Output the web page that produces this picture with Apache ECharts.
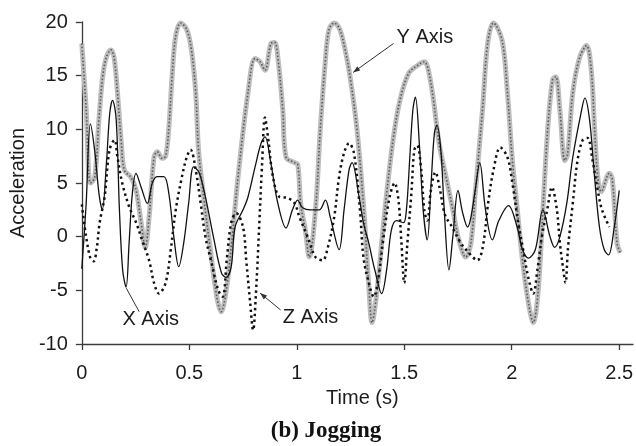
<!DOCTYPE html>
<html>
<head>
<meta charset="utf-8">
<script src="https://cdn.jsdelivr.net/npm/echarts@6/dist/echarts.min.js"></script>
<style>
  html, body { margin: 0; padding: 0; background: #ffffff; }
  #chart { width: 636px; height: 446px; }
</style>
</head>
<body>
<div id="chart"></div>
<script>
// Tick positions on the time axis (s)
const timeTicks = [0, 0.5, 1, 1.5, 2, 2.5];

// X axis acceleration (solid line)
const xTime = [0, 0.02, 0.04, 0.06, 0.08, 0.095, 0.115, 0.13, 0.143, 0.16, 0.175, 0.19, 0.206, 0.22, 0.235, 0.252, 0.276, 0.305, 0.328, 0.35, 0.382, 0.405, 0.428, 0.451, 0.474, 0.497, 0.52, 0.545, 0.575, 0.612, 0.65, 0.672, 0.695, 0.713, 0.75, 0.773, 0.806, 0.834, 0.852, 0.879, 0.912, 0.95, 0.98, 1.004, 1.027, 1.064, 1.105, 1.133, 1.156, 1.197, 1.22, 1.243, 1.257, 1.29, 1.31, 1.335, 1.363, 1.395, 1.418, 1.44, 1.464, 1.496, 1.51, 1.525, 1.54, 1.552, 1.57, 1.588, 1.607, 1.625, 1.64, 1.652, 1.67, 1.686, 1.708, 1.726, 1.75, 1.772, 1.795, 1.81, 1.832, 1.851, 1.878, 1.91, 1.94, 1.985, 2.025, 2.05, 2.078, 2.11, 2.145, 2.178, 2.2, 2.224, 2.256, 2.284, 2.325, 2.34, 2.362, 2.385, 2.408, 2.43, 2.45, 2.477, 2.5];
const xAcc = [-3, 3, 10.5, 8, 4, 2.5, 7, 11.5, 12.7, 10.9, 2.5, -3.1, -4.7, -0.6, 4.0, 5.9, 4.6, 3.1, 5.0, 5.6, 5.6, 4.0, 0.0, -2.8, -0.6, 3.1, 6.5, 6.0, 3.7, 0.0, -3.4, -3.8, -2.8, 0.9, 2.5, 3.7, 6.5, 8.7, 9.3, 6.9, 3.1, 0.8, 2.5, 3.4, 2.7, 2.5, 2.5, 3.4, 1.8, -1.2, 2.5, 6.2, 6.9, 3.7, 1.3, -0.6, -3.1, -5.3, -3.1, 0.6, 1.5, 1.3, 2.5, 7.1, 11.8, 13.0, 8.7, 2.5, -0.3, 5.0, 9.6, 10.4, 8.1, 2.5, -3.1, 0.0, 4.3, 2.2, 0.9, 1.8, 4.6, 6.9, 2.5, -0.3, 1.5, 2.9, 0.9, -1.2, -2.0, -1.2, 2.5, 0.0, -1.0, 0.0, 3.1, 7.4, 11.8, 12.9, 10.9, 5.6, 0.9, -1.2, -1.7, 0.9, 4.3];

// Y axis acceleration (thick grey line)
const yTime = [0, 0.02, 0.04, 0.06, 0.08, 0.097, 0.114, 0.135, 0.15, 0.166, 0.184, 0.198, 0.23, 0.253, 0.276, 0.295, 0.313, 0.336, 0.351, 0.374, 0.39, 0.405, 0.42, 0.436, 0.46, 0.488, 0.51, 0.53, 0.543, 0.567, 0.598, 0.628, 0.648, 0.674, 0.697, 0.727, 0.773, 0.806, 0.829, 0.852, 0.88, 0.897, 0.912, 0.935, 0.95, 0.99, 1.005, 1.018, 1.04, 1.058, 1.087, 1.11, 1.133, 1.15, 1.174, 1.2, 1.225, 1.248, 1.28, 1.31, 1.335, 1.35, 1.372, 1.395, 1.418, 1.45, 1.48, 1.52, 1.565, 1.593, 1.61, 1.634, 1.662, 1.694, 1.726, 1.754, 1.786, 1.81, 1.83, 1.864, 1.888, 1.915, 1.955, 1.98, 2.003, 2.026, 2.05, 2.078, 2.1, 2.122, 2.145, 2.168, 2.19, 2.205, 2.224, 2.247, 2.26, 2.284, 2.316, 2.348, 2.37, 2.385, 2.4, 2.416, 2.454, 2.468, 2.49, 2.505];
const yAcc = [18, 12, 5, 5.5, 11, 14.9, 16.7, 17.4, 16.7, 13.4, 8.7, 6.2, 5.5, 4.3, 1.3, -1.0, 1.8, 7.4, 7.9, 7.3, 7.5, 10.2, 14.9, 18.6, 19.9, 19.3, 17.4, 13.4, 8.1, 3.7, -1.2, -5.6, -7.0, -4.7, -0.6, 5.6, 13.4, 16.6, 16.3, 15.5, 18.0, 18.1, 16.7, 11.8, 7.4, 6.9, 6.7, 3.1, 0.6, -1.9, 2.5, 10.2, 16.4, 19.3, 19.9, 19.3, 17.4, 14.9, 10, 3, -4.5, -8.0, -5.3, -0.6, 4.0, 9.3, 12.7, 15.2, 16.0, 16.3, 15.7, 13.0, 8.7, 5.6, 2.5, -0.3, -1.9, -0.6, 4.0, 11.8, 18.0, 19.9, 18.3, 13.4, 7.1, 2.5, -2.2, -6.2, -8.0, -5.3, 2.5, 10.2, 14.6, 14.9, 11.8, 7.1, 7.7, 13.4, 16.7, 17.8, 15.5, 10.2, 5.6, 4.2, 5.9, 5.3, -0.6, -1.5];

// Z axis acceleration (dotted line)
const zTime = [0, 0.02, 0.04, 0.055, 0.07, 0.083, 0.106, 0.129, 0.152, 0.166, 0.188, 0.22, 0.253, 0.28, 0.313, 0.336, 0.359, 0.39, 0.414, 0.437, 0.466, 0.488, 0.506, 0.53, 0.553, 0.575, 0.603, 0.635, 0.655, 0.675, 0.695, 0.718, 0.75, 0.765, 0.782, 0.797, 0.81, 0.825, 0.838, 0.852, 0.866, 0.889, 0.92, 0.958, 0.99, 1.013, 1.05, 1.087, 1.12, 1.142, 1.174, 1.197, 1.22, 1.243, 1.266, 1.294, 1.31, 1.335, 1.358, 1.38, 1.404, 1.432, 1.455, 1.473, 1.487, 1.5, 1.515, 1.533, 1.547, 1.56, 1.579, 1.593, 1.607, 1.625, 1.645, 1.665, 1.69, 1.72, 1.76, 1.8, 1.84, 1.865, 1.89, 1.915, 1.947, 1.98, 2.003, 2.03, 2.053, 2.077, 2.1, 2.12, 2.14, 2.165, 2.187, 2.21, 2.224, 2.24, 2.25, 2.262, 2.284, 2.306, 2.33, 2.352, 2.376, 2.4, 2.42, 2.454];
const zAcc = [3, 0, -2, -2.3, -1, 1.3, 3.7, 8.1, 9.0, 7.4, 5.0, 2.8, 1.3, -0.3, -2.2, -4.3, -5.3, -4.3, -1.2, 2.5, 5.6, 7.4, 8.1, 6.2, 3.1, 0.0, -2.4, -5.0, -5.6, -2.0, 1.3, 2.2, 0.9, -2.2, -5.9, -8.7, -5.3, 0.9, 6.5, 11.1, 9.3, 5.6, 3.7, 3.6, 3.1, 1.8, 0.0, -1.9, -2.2, -1.2, 1.8, 5.6, 7.8, 8.7, 7.8, 2.5, -1.9, -4.3, -5.6, -3.8, 0.0, 3.7, 5.0, 3.4, -0.6, -4.3, -0.5, 4.0, 8.1, 8.5, 6.2, 2.5, 1.5, 4.5, 6.0, 4.5, 2.0, 1.0, -0.5, -1.5, -2.2, -1.0, 3.1, 6.2, 8.3, 7.4, 5.0, 1.3, -1.2, -3.8, -5.3, -3, 0, 2.5, 4.6, 2.5, -0.6, -3.1, -4.3, -1, 3.1, 7.1, 9.0, 9.2, 7.1, 4.3, 2.5, 0.9];

// Callout labels: text, leader start (on the curve), leader end, text anchor (data coords)
const callouts = [
  { text: 'Y Axis', from: [1.262, 15.3], to: [1.45, 18.0], at: [1.464, 18.6], arrow: true },
  { text: 'X Axis', from: [0.207, -4.8], to: [0.267, -7.0], at: [0.189, -7.75], arrow: false },
  { text: 'Z Axis', from: [0.829, -5.25], to: [0.925, -6.83], at: [0.935, -7.55], arrow: true }
];

const pairs = (ts, vs) => ts.map((t, i) => [t, vs[i]]);
const SANS = 'Liberation Sans, Arial, sans-serif';
const INK = '#1c1c1c';

const chart = echarts.init(document.getElementById('chart'), null, { renderer: 'canvas' });

const option = {
  animation: false,
  backgroundColor: '#ffffff',
  grid: { left: 77, top: 22, right: 2, bottom: 102 },
  xAxis: {
    type: 'value', min: 0, max: 2.564, interval: 0.5,
    axisLine: { onZero: false, lineStyle: { color: '#3a3a3a', width: 1.3 } },
    axisTick: { show: true, length: 6, customValues: timeTicks, lineStyle: { color: '#3a3a3a', width: 1.3 } },
    axisLabel: { customValues: timeTicks, margin: 19, fontSize: 20, color: INK, fontFamily: SANS },
    splitLine: { show: false },
    name: 'Time (s)', nameLocation: 'middle', nameGap: 44,
    nameTextStyle: { fontSize: 20, color: INK, fontFamily: SANS, padding: [0, 0, 0, 10] }
  },
  yAxis: {
    type: 'value', min: -10, max: 20, interval: 5,
    axisLine: { show: true, onZero: false, lineStyle: { color: '#3a3a3a', width: 1.3 } },
    axisTick: { show: true, length: 6, lineStyle: { color: '#3a3a3a', width: 1.3 } },
    axisLabel: { margin: 14, fontSize: 20, color: INK, fontFamily: SANS },
    splitLine: { show: false },
    name: 'Acceleration', nameLocation: 'middle', nameGap: 41,
    nameTextStyle: { fontSize: 20, color: INK, fontFamily: SANS }
  },
  series: [
    {
      name: 'Y Axis', type: 'line', data: pairs(yTime, yAcc), smooth: 0.35,
      showSymbol: false, z: 2,
      lineStyle: { color: '#bdbdbd', width: 5 }
    },
    {
      name: 'Y Axis texture', type: 'line', data: pairs(yTime, yAcc), smooth: 0.35,
      showSymbol: false, z: 3,
      lineStyle: { color: '#5a5a5a', width: 1.6, type: [1.5, 2] }
    },
    {
      name: 'Z Axis', type: 'line', data: pairs(zTime, zAcc), smooth: 0.35,
      showSymbol: false, z: 4,
      lineStyle: { color: '#111111', width: 2.5, type: [2.4, 3.4] }
    },
    {
      name: 'X Axis', type: 'line', data: pairs(xTime, xAcc), smooth: 0.35,
      showSymbol: false, z: 5,
      lineStyle: { color: '#111111', width: 1.3 }
    }
  ]
};
chart.setOption(option);

// Callout leaders and texts, placed through the grid's coordinate system
function arrowHead(p, q, len, half) {
  const dx = p[0] - q[0], dy = p[1] - q[1];
  const d = Math.hypot(dx, dy) || 1;
  const ux = dx / d, uy = dy / d;
  const bx = p[0] - ux * len, by = p[1] - uy * len;
  return [p, [bx - uy * half, by + ux * half], [bx + uy * half, by - ux * half]];
}
const gfx = [];
callouts.forEach(c => {
  const p = chart.convertToPixel({ gridIndex: 0 }, c.from);
  const q = chart.convertToPixel({ gridIndex: 0 }, c.to);
  const a = chart.convertToPixel({ gridIndex: 0 }, c.at);
  gfx.push({ type: 'line', shape: { x1: p[0], y1: p[1], x2: q[0], y2: q[1] },
             style: { stroke: '#333333', lineWidth: 1 }, z: 10 });
  if (c.arrow) {
    gfx.push({ type: 'polygon', shape: { points: arrowHead(p, q, 7, 2.5) },
               style: { fill: '#333333' }, z: 10 });
  }
  gfx.push({ type: 'text', x: a[0], y: a[1], z: 10,
             style: { text: c.text, fill: INK, font: '20px ' + SANS, textAlign: 'left', textVerticalAlign: 'middle' } });
});
gfx.push({ type: 'text', x: 326, y: 431, z: 10,
           style: { text: '(b) Jogging', fill: '#111111', font: 'bold 23px "Liberation Serif", "Times New Roman", serif',
                    textAlign: 'center', textVerticalAlign: 'middle' } });
chart.setOption({ graphic: gfx });
</script>
</body>
</html>
